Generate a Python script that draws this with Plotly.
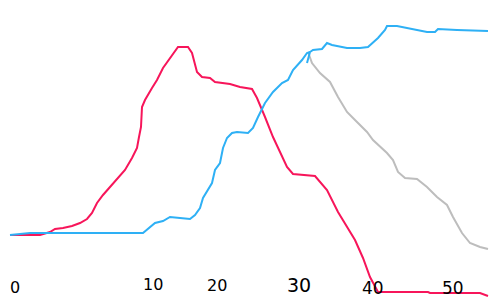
import plotly.graph_objects as go

# Values (x position, y position in the sketch's own units)
red_x = [10, 40, 50, 55, 63, 72, 80, 87, 92, 97, 103, 110, 118, 125, 132, 137, 139, 141, 142, 145, 152, 157, 163, 170, 175, 178, 188, 192, 197, 202, 210, 215, 230, 240, 252, 257, 265, 273, 287, 293, 315, 327, 338, 355, 363, 370, 378, 428, 430, 480, 488]
red_y = [235, 235, 232, 229, 228, 226, 223, 219, 213, 203, 195, 187, 178, 170, 158, 148, 137, 127, 107, 100, 88, 80, 68, 58, 50, 47, 47, 53, 72, 77, 78, 82, 84, 87, 89, 98, 117, 137, 167, 174, 176, 190, 212, 240, 258, 277, 292, 292, 293, 293, 296]

blue_x = [10, 30, 143, 148, 155, 163, 170, 180, 190, 195, 200, 203, 208, 212, 215, 220, 223, 227, 232, 237, 248, 253, 258, 265, 273, 282, 288, 293, 302, 307, 310, 307, 310, 313, 322, 327, 332, 347, 360, 368, 378, 385, 387, 397, 417, 427, 435, 438, 457, 488]
blue_y = [235, 233, 233, 229, 223, 221, 217, 218, 219, 215, 208, 198, 190, 183, 170, 163, 148, 138, 133, 132, 133, 128, 117, 103, 92, 83, 80, 70, 60, 53, 52, 63, 52, 50, 49, 43, 45, 48, 48, 47, 38, 30, 26, 26, 30, 32, 32, 29, 30, 31]

gray_x = [308, 312, 320, 330, 338, 347, 355, 367, 373, 387, 393, 398, 405, 417, 427, 437, 447, 453, 462, 470, 480, 488]
gray_y = [52, 63, 73, 82, 97, 112, 120, 132, 140, 153, 160, 172, 178, 179, 187, 197, 205, 217, 233, 243, 247, 249]

tick_labels = ["0", "10", "20", "30", "40", "50"]
tick_x = [15, 153, 217, 299, 373, 453]
tick_y = [287, 284, 285, 285, 288, 288]
tick_size = [16, 16, 16, 19, 17, 17]

fig = go.Figure()
fig.add_trace(go.Scatter(x=gray_x, y=gray_y, mode="lines",
                         line=dict(color="#bdbdbd", width=2)))
fig.add_trace(go.Scatter(x=red_x, y=red_y, mode="lines",
                         line=dict(color="#f7155a", width=2)))
fig.add_trace(go.Scatter(x=blue_x, y=blue_y, mode="lines",
                         line=dict(color="#2eb0f5", width=2)))

for t, xx, yy, s in zip(tick_labels, tick_x, tick_y, tick_size):
    fig.add_annotation(x=xx, y=yy, text=t, showarrow=False, xref="x", yref="y",
                       font=dict(family="DejaVu Sans", size=s, color="black"))

fig.update_layout(
    width=490, height=300, margin=dict(l=0, r=0, t=0, b=0),
    paper_bgcolor="white", plot_bgcolor="white", showlegend=False,
    xaxis=dict(range=[0, 490], visible=False, fixedrange=True),
    yaxis=dict(range=[300, 0], visible=False, fixedrange=True),
)
fig.write_html("out.html", config={"displayModeBar": False})
